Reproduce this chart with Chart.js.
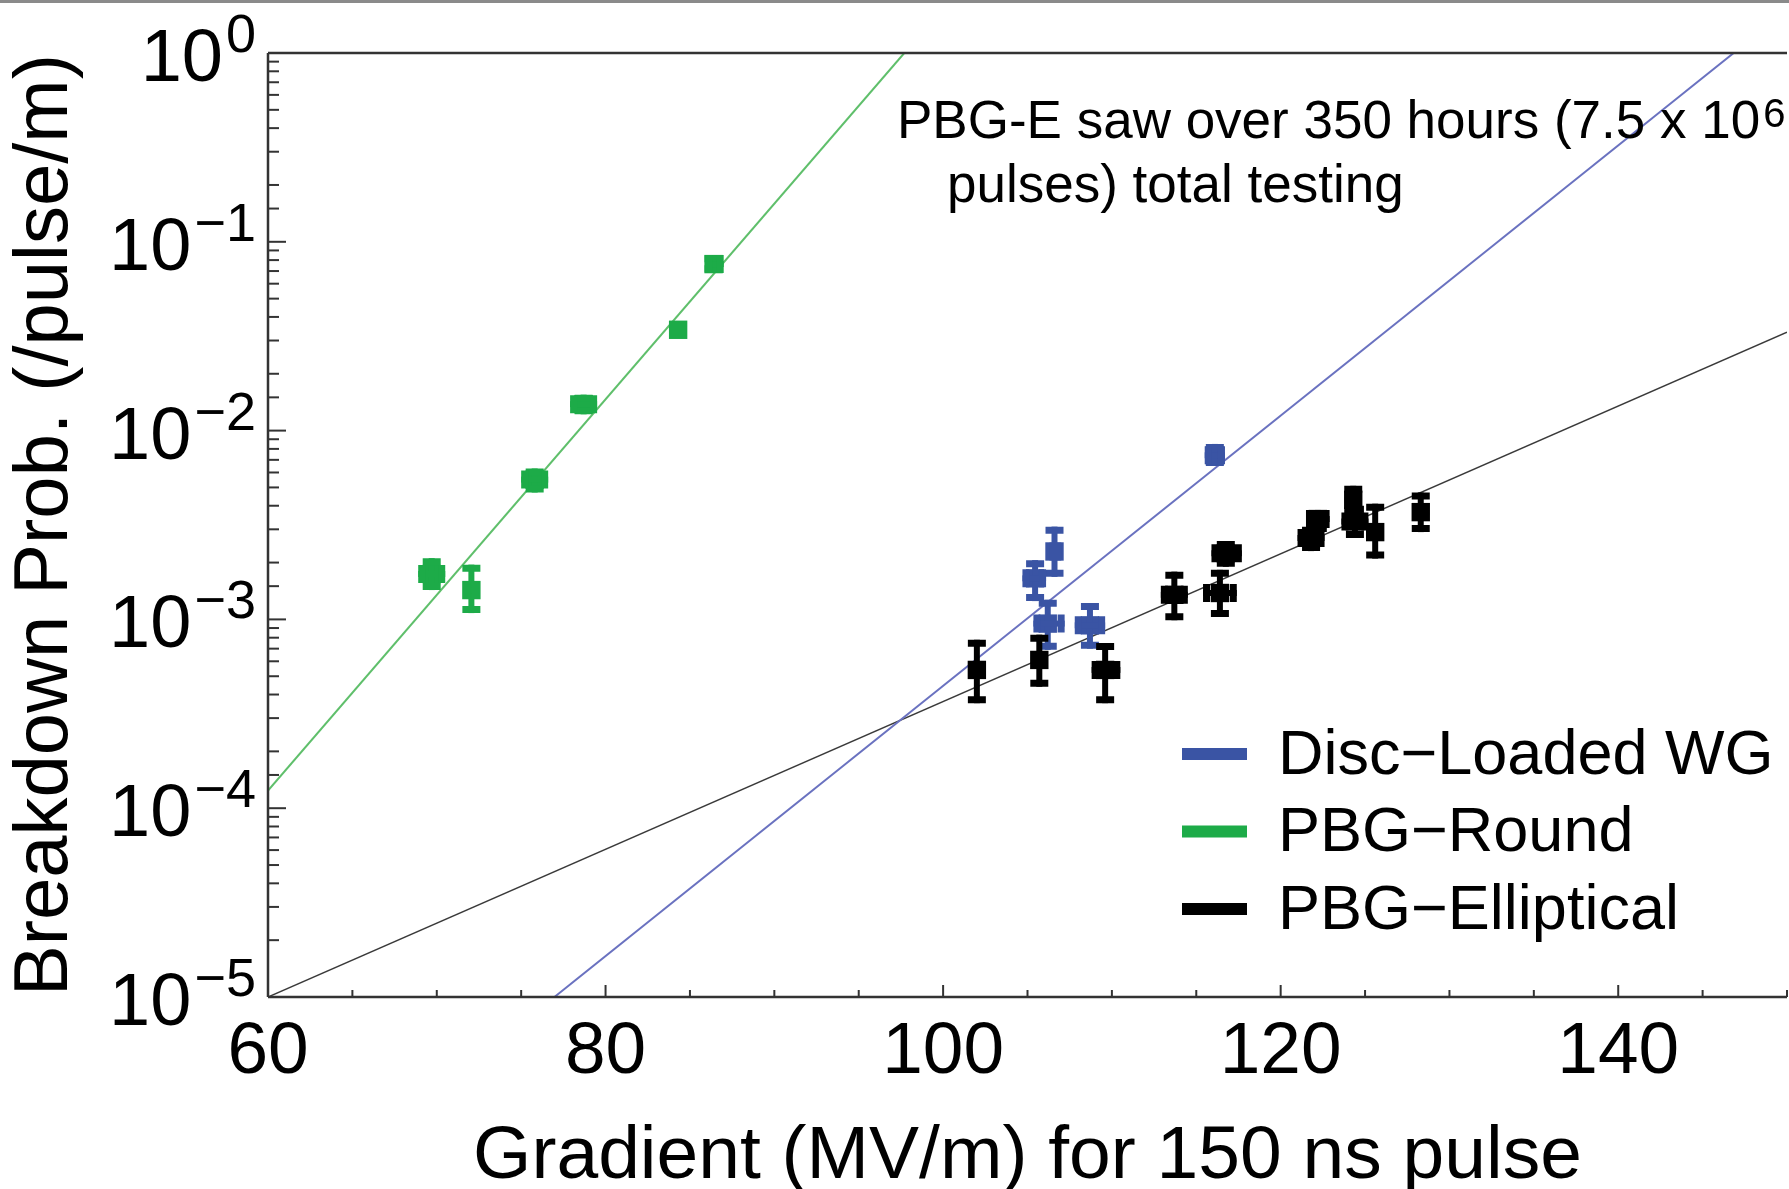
<!DOCTYPE html>
<html>
<head>
<meta charset="utf-8">
<script src="https://cdn.jsdelivr.net/npm/chart.js@4.4.1/dist/chart.umd.min.js"></script>
<style>
html,body{margin:0;padding:0;background:#fff;overflow:hidden;width:1789px;height:1189px;}
canvas{display:block;}
</style>
</head>
<body>
<canvas id="c" width="1800" height="1189"></canvas>
<script>
// ---- data ----
const xTicksMajor = [60, 80, 100, 120, 140];
const yTickExponents = [0, -1, -2, -3, -4, -5];
const seriesNames = ['Disc\u2212Loaded WG', 'PBG\u2212Round', 'PBG\u2212Elliptical'];
const annotationLine1 = 'PBG-E saw over 350 hours (7.5 x 10';
const annotationSup = '6';
const annotationLine2 = 'pulses) total testing';

// PBG-Round (green)
const roundX   = [86.4, 84.3, 78.7, 75.8, 69.7, 72.05];
const roundY   = [0.0762, 0.0342, 0.0138, 0.0055, 0.00174, 0.00143];
const roundXLo = [85.9, 84.3, 77.9, 75.0, 68.9, 71.6];
const roundXHi = [87.0, 84.3, 79.5, 76.6, 70.5, 72.5];
const roundYLo = [0.069, 0.0342, 0.0122, 0.0047, 0.00143, 0.00108];
const roundYHi = [0.085, 0.0342, 0.0155, 0.0063, 0.00211, 0.00195];

// Disc-Loaded WG (blue)
const discX   = [116.1, 106.6, 105.45, 106.2, 108.7];
const discY   = [0.0074, 0.00229, 0.00165, 0.00095, 0.00093];
const discXLo = [115.5, 106.3, 104.7, 105.35, 107.8];
const discXHi = [116.7, 107.0, 106.1, 107.2, 109.6];
const discYLo = [0.0065, 0.00168, 0.00125, 0.00069, 0.0007];
const discYHi = [0.0085, 0.0031, 0.00206, 0.00127, 0.00122];

// PBG-Elliptical (black)
const ellX   = [102.0, 105.7, 109.6, 113.7, 116.4, 116.75, 121.8, 122.2, 124.3, 124.4, 125.6, 128.3];
const ellY   = [0.00054, 0.00061, 0.00054, 0.00135, 0.00138, 0.00224, 0.0027, 0.0034, 0.0043, 0.0033, 0.0029, 0.0037];
const ellXLo = [101.6, 105.2, 108.8, 112.9, 115.4, 115.9, 121.0, 121.5, 123.8, 123.6, 125.1, 127.8];
const ellXHi = [102.4, 106.2, 110.5, 114.5, 117.4, 117.7, 122.6, 122.9, 124.8, 125.2, 126.1, 128.8];
const ellYLo = [0.00036, 0.00044, 0.00036, 0.00099, 0.00103, 0.0019, 0.0023, 0.0029, 0.0036, 0.0027, 0.0021, 0.0029];
const ellYHi = [0.00078, 0.00083, 0.00075, 0.00179, 0.00183, 0.0026, 0.0031, 0.0038, 0.0051, 0.0040, 0.0041, 0.0047];

// fit lines (end points)
const discFitX  = [76.97, 146.84]; const discFitY  = [1e-5, 1];
const roundFitX = [60, 97.7];      const roundFitY = [1.24e-4, 1];
const ellFitX   = [60, 150];       const ellFitY   = [1e-5, 0.0332];

// ---- styling ----
const FONT = "'Liberation Sans', Arial, sans-serif";
const colDisc = '#3a54a4', colDiscLine = '#6a72c0';
const colRound = '#1dab48', colRoundLine = '#5fbf6b';
const colEll = '#000000', colEllLine = '#3a3a3a';
const legendColors = [colDisc, colRound, colEll];

function pts(xs, ys){ return xs.map((x,i)=>({x:x, y:ys[i]})); }

const errorSets = [
  {x:roundX, y:roundY, xl:roundXLo, xh:roundXHi, yl:roundYLo, yh:roundYHi, c:colRound},
  {x:discX, y:discY, xl:discXLo, xh:discXHi, yl:discYLo, yh:discYHi, c:colDisc},
  {x:ellX, y:ellY, xl:ellXLo, xh:ellXHi, yl:ellYLo, yh:ellYHi, c:colEll}
];

const decor = {
  id: 'decor',
  afterDatasetsDraw(chart){
    const ctx = chart.ctx, xs = chart.scales.x, ys = chart.scales.y;
    ctx.save();
    errorSets.forEach(s=>{
      ctx.strokeStyle = s.c; ctx.lineCap = 'butt';
      s.x.forEach((xv,i)=>{
        const px = xs.getPixelForValue(xv), py = ys.getPixelForValue(s.y[i]);
        const yt = ys.getPixelForValue(s.yh[i]), yb = ys.getPixelForValue(s.yl[i]);
        if (yb - yt > 2){
          ctx.lineWidth = 6;
          ctx.beginPath(); ctx.moveTo(px, yt); ctx.lineTo(px, yb); ctx.stroke();
          ctx.lineWidth = 7;
          ctx.beginPath(); ctx.moveTo(px-9, yt+3.5); ctx.lineTo(px+9, yt+3.5);
          ctx.moveTo(px-9, yb-3.5); ctx.lineTo(px+9, yb-3.5); ctx.stroke();
        }
        const xl = xs.getPixelForValue(s.xl[i]), xr = xs.getPixelForValue(s.xh[i]);
        if (xr - xl > 2){
          ctx.lineWidth = 6;
          ctx.beginPath(); ctx.moveTo(xl, py); ctx.lineTo(xr, py); ctx.stroke();
          ctx.lineWidth = 7;
          ctx.beginPath(); ctx.moveTo(xl+3.5, py-9); ctx.lineTo(xl+3.5, py+9);
          ctx.moveTo(xr-3.5, py-9); ctx.lineTo(xr-3.5, py+9); ctx.stroke();
        }
      });
    });
    ctx.restore();
  },
  afterDraw(chart){
    const ctx = chart.ctx, xs = chart.scales.x, ys = chart.scales.y, a = chart.chartArea;
    ctx.save();
    // top grey strip
    ctx.fillStyle = '#8a8a8a'; ctx.fillRect(0, 0, chart.width, 3);
    // frame
    ctx.strokeStyle = '#333'; ctx.lineWidth = 2.5;
    ctx.beginPath();
    ctx.moveTo(a.left, a.top); ctx.lineTo(a.right, a.top);
    ctx.moveTo(a.left, a.top); ctx.lineTo(a.left, a.bottom);
    ctx.moveTo(a.left, a.bottom); ctx.lineTo(a.right, a.bottom);
    ctx.stroke();
    // inward ticks
    ctx.lineWidth = 2;
    ys.ticks.forEach(t=>{
      const v = t.value; if (v < ys.min || v > ys.max) return;
      const lg = Math.log10(v), major = Math.abs(lg - Math.round(lg)) < 1e-6;
      const p = ys.getPixelForValue(v);
      ctx.beginPath(); ctx.moveTo(a.left, p); ctx.lineTo(a.left + (major ? 18 : 11), p); ctx.stroke();
    });
    xs.ticks.forEach(t=>{
      const v = t.value, major = xTicksMajor.includes(v);
      const p = xs.getPixelForValue(v);
      ctx.beginPath(); ctx.moveTo(p, a.bottom); ctx.lineTo(p, a.bottom - (major ? 12 : 7)); ctx.stroke();
    });
    // y tick labels 10^e
    ctx.fillStyle = '#000';
    yTickExponents.forEach(e=>{
      const p = ys.getPixelForValue(Math.pow(10, e));
      const sup = e === 0 ? '0' : '\u2212' + Math.abs(e);
      ctx.font = '54px ' + FONT; ctx.textAlign = 'right'; ctx.textBaseline = 'alphabetic';
      const sw = ctx.measureText(sup).width;
      ctx.fillText(sup, 256, p - 1);
      ctx.font = '74px ' + FONT;
      ctx.fillText('10', 256 - sw - 3, p + 28);
    });
    // legend
    ctx.textAlign = 'left';
    seriesNames.forEach((n,i)=>{
      const yc = 754 + i*77.5;
      ctx.fillStyle = legendColors[i];
      ctx.fillRect(1182, yc - 6, 65, 12);
      ctx.fillStyle = '#000';
      ctx.font = '63px ' + FONT;
      ctx.fillText(n, 1278, yc + 19.5);
    });
    // annotation
    ctx.font = '53px ' + FONT;
    ctx.fillText(annotationLine1, 897, 138);
    const w1 = ctx.measureText(annotationLine1).width;
    ctx.font = '40px ' + FONT;
    ctx.fillText(annotationSup, 897 + w1 + 3, 127);
    ctx.font = '53px ' + FONT;
    ctx.fillText(annotationLine2, 947, 202);
    ctx.restore();
  }
};

new Chart(document.getElementById('c'), {
  type: 'scatter',
  data: {
    datasets: [
      {type:'line', data: pts(discFitX, discFitY), borderColor: colDiscLine, borderWidth: 2, pointRadius: 0, fill:false, order: 2},
      {type:'line', data: pts(roundFitX, roundFitY), borderColor: colRoundLine, borderWidth: 2, pointRadius: 0, fill:false, order: 2},
      {type:'line', data: pts(ellFitX, ellFitY), borderColor: colEllLine, borderWidth: 1.5, pointRadius: 0, fill:false, order: 2},
      {data: pts(discX, discY), pointStyle:'rect', pointRadius: 13, backgroundColor: colDisc, borderWidth: 0, order: 1},
      {data: pts(roundX, roundY), pointStyle:'rect', pointRadius: 13, backgroundColor: colRound, borderWidth: 0, order: 1},
      {data: pts(ellX, ellY), pointStyle:'rect', pointRadius: 13, backgroundColor: colEll, borderWidth: 0, order: 1}
    ]
  },
  options: {
    responsive: false, animation: false, devicePixelRatio: 1,
    layout: {padding: {top: 53, right: 7, left: 0, bottom: 0}},
    plugins: {legend: {display: false}, tooltip: {enabled: false}},
    scales: {
      x: {
        type: 'linear', min: 60, max: 150,
        grid: {display: false}, border: {display: false},
        ticks: {stepSize: 5, autoSkip: false, maxRotation: 0, padding: 4, color: '#000',
          font: {family: FONT, size: 73, lineHeight: 1.2},
          callback: v => xTicksMajor.includes(v) ? String(v) : ''},
        title: {display: true, text: 'Gradient (MV/m) for 150 ns pulse', color: '#000',
          font: {family: FONT, size: 75, lineHeight: 0.85}, padding: 0},
        afterFit: s => { s.height = 192; }
      },
      y: {
        type: 'logarithmic', min: 1e-5, max: 1,
        grid: {display: false}, border: {display: false},
        ticks: {display: false},
        title: {display: true, text: 'Breakdown Prob. (/pulse/m)', color: '#000',
          font: {family: FONT, size: 76, lineHeight: 1.2}, padding: 0},
        afterFit: s => { s.width = 268; }
      }
    }
  },
  plugins: [decor]
});
</script>
</body>
</html>
